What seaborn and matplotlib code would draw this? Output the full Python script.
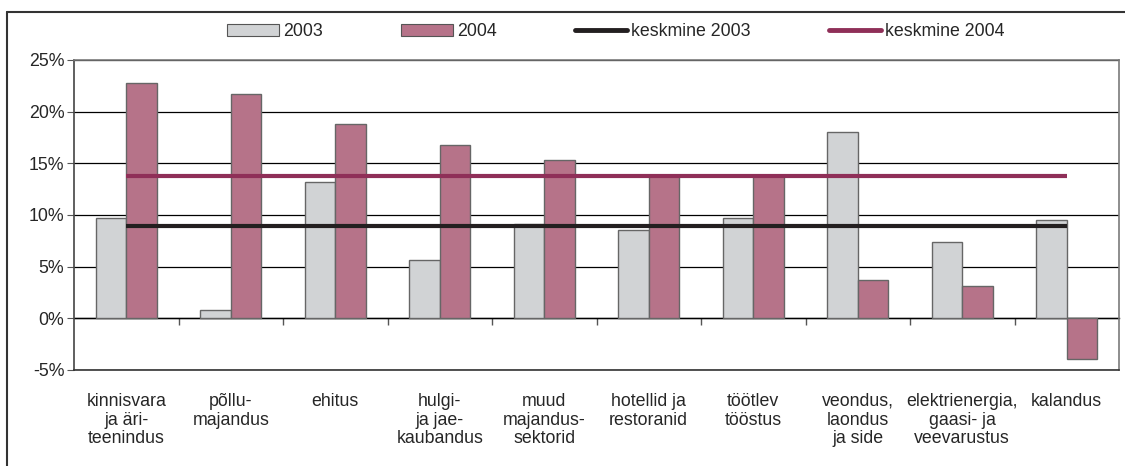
import pandas as pd
import seaborn as sns
import matplotlib.pyplot as plt
from matplotlib.patches import Rectangle
from matplotlib.lines import Line2D

# sector labels (as printed under the bars)
sectors = [
    "kinnisvara\nja äri-\nteenindus",
    "põllu-\nmajandus",
    "ehitus",
    "hulgi-\nja jae-\nkaubandus",
    "muud\nmajandus-\nsektorid",
    "hotellid ja\nrestoranid",
    "töötlev\ntööstus",
    "veondus,\nlaondus\nja side",
    "elektrienergia,\ngaasi- ja\nveevarustus",
    "kalandus",
]
growth_2003 = [9.7, 0.8, 13.2, 5.6, 9.1, 8.5, 9.7, 18.0, 7.4, 9.5]
growth_2004 = [22.8, 21.7, 18.8, 16.8, 15.3, 13.8, 13.8, 3.7, 3.1, -3.9]
mean_2003 = 8.9
mean_2004 = 13.8
years = ["2003", "2004"]
yticks = [-5, 0, 5, 10, 15, 20, 25]

col_2003 = "#d1d3d5"
col_2004 = "#b67389"
line_2003 = "#231f20"
line_2004 = "#8f2f58"
fs = 12.8

df = pd.DataFrame({
    "sector": sectors * 2,
    "year": [years[0]] * len(sectors) + [years[1]] * len(sectors),
    "value": growth_2003 + growth_2004,
})

sns.set_style("white")
plt.rcParams["font.family"] = ["Liberation Sans", "DejaVu Sans"]
plt.rcParams["axes.unicode_minus"] = False

fig = plt.figure(figsize=(11.25, 4.66), dpi=100)
ax = fig.add_axes([74 / 1125, 1 - 370 / 466, (1119 - 74) / 1125, 310 / 466])

sns.barplot(data=df, x="sector", y="value", hue="year", order=sectors,
            palette=[col_2003, col_2004], width=0.58, edgecolor="#666666",
            linewidth=1, saturation=1, legend=False, zorder=3, ax=ax)

xs = list(range(len(sectors)))
ax.plot(xs, [mean_2003] * len(xs), color=line_2003, lw=3, zorder=4, solid_capstyle="butt")
ax.plot(xs, [mean_2004] * len(xs), color=line_2004, lw=3, zorder=4, solid_capstyle="butt")

ax.set_xlim(-0.5, len(sectors) - 0.5)
ax.set_ylim(-5, 25)
ax.set_yticks(yticks)
ax.set_yticklabels([f"{t}%" for t in yticks])
ax.yaxis.grid(True, color="black", lw=0.9)
ax.set_axisbelow(True)
ax.set_xlabel("")
ax.set_ylabel("")
ax.tick_params(axis="y", left=True, length=5, color="#555555", labelsize=fs, pad=2)
ax.tick_params(axis="x", bottom=False, labelsize=fs, pad=13)
for lab in ax.get_xticklabels():
    lab.set_linespacing(1.13)
    lab.set_va("top")

for side in ["left", "right", "top", "bottom"]:
    ax.spines[side].set_color("#7a7a7a")
    ax.spines[side].set_linewidth(1.2)
ax.spines["left"].set_color("#444444")
ax.spines["bottom"].set_color("#333333")

# zero axis with separators between sectors
zero_axis = ax.secondary_xaxis(5 / 30)
zero_axis.set_xticks([x + 0.5 for x in xs[:-1]])
zero_axis.set_xticklabels([])
zero_axis.tick_params(length=5, color="#555555", width=1)
zero_axis.spines["bottom"].set_color("black")
zero_axis.spines["bottom"].set_linewidth(1)

# legend on top
handles = [
    Rectangle((0, 0), 1, 1, facecolor=col_2003, edgecolor="#555555", lw=0.8),
    Rectangle((0, 0), 1, 1, facecolor=col_2004, edgecolor="#555555", lw=0.8),
    Line2D([], [], color=line_2003, lw=3.5),
    Line2D([], [], color=line_2004, lw=3.5),
]
fig.legend(handles, ["2003", "2004", "keskmine 2003", "keskmine 2004"],
           loc="center", bbox_to_anchor=(616 / 1125, 1 - 32 / 466), ncol=4,
           frameon=False, fontsize=fs, handlelength=2.9, handleheight=0.62,
           handletextpad=0.25, columnspacing=4.4, borderpad=0)

# outer frame of the figure (top and left edges visible)
frame_kw = dict(transform=fig.transFigure, color="#333333", lw=1.5)
fig.lines.append(Line2D([7 / 1125, 1], [1 - 12 / 466] * 2, **frame_kw))
fig.lines.append(Line2D([7 / 1125] * 2, [0, 1 - 12 / 466], **frame_kw))

fig.savefig("out.png", dpi=100)
